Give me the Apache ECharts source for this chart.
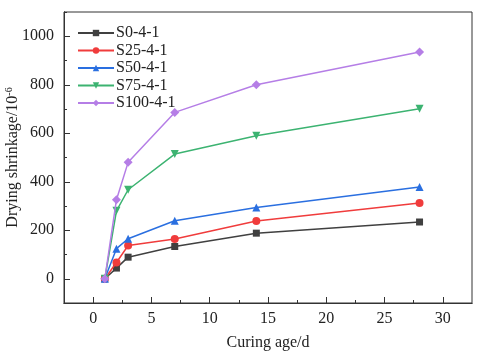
<!DOCTYPE html>
<html><head><meta charset="utf-8">
<script src="https://cdn.jsdelivr.net/npm/echarts@6/dist/echarts.min.js"></script>
<style>html,body{margin:0;padding:0;background:#fff}#c{width:480px;height:355px}</style>
</head><body><div id="c"></div>
<script>
var ages = [1, 2, 3, 7, 14, 28];
var s0 = [0, 44, 89, 133, 188, 234];
var s25 = [0, 67, 137, 164, 238, 312];
var s50 = [0, 124, 165, 239, 294, 378];
var s75 = [0, 280, 367, 514, 590, 701];
var s100 = [0, 326, 480, 686, 800, 935];
var seriesNames = ['S0-4-1', 'S25-4-1', 'S50-4-1', 'S75-4-1', 'S100-4-1'];
var xTicks = [0, 5, 10, 15, 20, 25, 30];
var xMinor = [2.5, 7.5, 12.5, 17.5, 22.5, 27.5];
var yTicks = [0, 200, 400, 600, 800, 1000];
var yMinor = [-100, 100, 300, 500, 700, 900, 1100];

var colors = ['#404040', '#f03c3c', '#2a6fe0', '#3cb371', '#b57ee6'];
var symbols = ['rect', 'circle', 'triangle', 'triangle', 'diamond'];
var rotates = [0, 0, 0, 180, 0];
var sizes = [7, 8, 8, 8, 9];
var allData = [s0, s25, s50, s75, s100];
var font = '"Liberation Serif", "Times New Roman", serif';

var chart = echarts.init(document.getElementById('c'));
var series = allData.map(function (d, i) {
  return {
    name: seriesNames[i], type: 'line', xAxisIndex: 0, yAxisIndex: 0,
    data: d.map(function (v, j) { return [ages[j], v]; }),
    symbol: symbols[i], symbolRotate: rotates[i], symbolSize: sizes[i],
    showAllSymbol: true,
    lineStyle: { color: colors[i], width: 1.5 },
    itemStyle: { color: colors[i] },
    z: 3 + i
  };
});
var axBase = {
  axisLine: { show: true, onZero: false, lineStyle: { color: '#333', width: 1 } },
  splitLine: { show: false }
};
function plain(v) { return String(v); }
chart.setOption({
  animation: false,
  backgroundColor: '#fff',
  grid: { left: 64, top: 12, right: 8, bottom: 52, show: true, borderColor: '#333', borderWidth: 1,
          containLabel: false, outerBoundsMode: 'none' },
  legend: {
    orient: 'vertical', left: 72, top: 20, itemWidth: 36, itemHeight: 8, itemGap: 1.5,
    data: seriesNames,
    textStyle: { fontFamily: font, fontSize: 16, lineHeight: 16, color: '#222', padding: [0, 0, 0, -3] }
  },
  xAxis: [
    Object.assign({}, axBase, {
      type: 'value', min: -2.5, max: 32.5,
      name: 'Curing age/d', nameLocation: 'middle', nameGap: 32, nameMoveOverlap: false,
      nameTextStyle: { fontFamily: font, fontSize: 16, color: '#222' },
      axisTick: { inside: true, length: 6, customValues: xTicks, lineStyle: { color: '#333' } },
      axisLabel: { customValues: xTicks, formatter: plain, fontFamily: font, fontSize: 16, color: '#222', margin: 8 }
    }),
    Object.assign({}, axBase, {
      type: 'value', min: -2.5, max: 32.5, position: 'bottom',
      axisTick: { inside: true, length: 3, customValues: xMinor, lineStyle: { color: '#333' } },
      axisLabel: { show: false }
    })
  ],
  yAxis: [
    Object.assign({}, axBase, {
      type: 'value', min: -100, max: 1100,
      name: '{a|Drying shrinkage/10}{s|-6}', nameLocation: 'middle', nameGap: 51, nameRotate: 90,
      nameMoveOverlap: false,
      nameTextStyle: { align: 'center', verticalAlign: 'middle', rich: {
        a: { fontFamily: font, fontSize: 16, color: '#222' },
        s: { fontFamily: font, fontSize: 10, color: '#222', verticalAlign: 'top', padding: [0, 0, 8, 0] }
      } },
      axisTick: { inside: true, length: 6, customValues: yTicks, lineStyle: { color: '#333' } },
      axisLabel: { customValues: yTicks, formatter: plain, fontFamily: font, fontSize: 16, color: '#222', margin: 10 }
    }),
    Object.assign({}, axBase, {
      type: 'value', min: -100, max: 1100, position: 'left',
      axisTick: { inside: true, length: 3, customValues: yMinor, lineStyle: { color: '#333' } },
      axisLabel: { show: false }
    })
  ],
  series: series
});
</script></body></html>
